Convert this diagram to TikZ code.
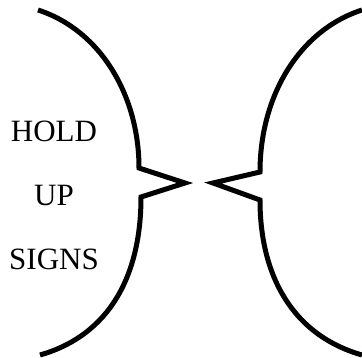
\documentclass[tikz,border=0pt]{standalone}
\usepackage{fontspec}
\setmainfont{Liberation Serif}
\usepackage{tikz}
\usetikzlibrary{positioning}

\begin{document}
\begin{tikzpicture}[
    x=1pt, y=-1pt,
    every node/.style={font=\fontsize{31}{37}\selectfont},
    label text/.style={
        inner sep=0pt,
        text height=21pt,
        text depth=0pt,
        anchor=center
    },
    mouth/.style={
        line width=5pt,
        line join=miter
    }
]

% Marco
\useasboundingbox (0,0) rectangle (362,358);

% Textos
\node[label text] (hold) at (54,131) {HOLD};
\node[label text, below=42.5pt of hold] (up) {UP};
\node[label text, below=42.5pt of up] (signs) {SIGNS};

% Perfil izquierdo
\draw[mouth] (38,10) .. controls (100,30) and (139,95) .. (139,168)
    -- (185,183) -- (141,197)
    .. controls (141,275) and (110,335) .. (40,355);

% Perfil derecho
\draw[mouth] (362,10) .. controls (300,30) and (260,95) .. (260,172)
    -- (213,183) -- (260,200)
    .. controls (260,275) and (292,335) .. (362,355);

\end{tikzpicture}
\end{document}
